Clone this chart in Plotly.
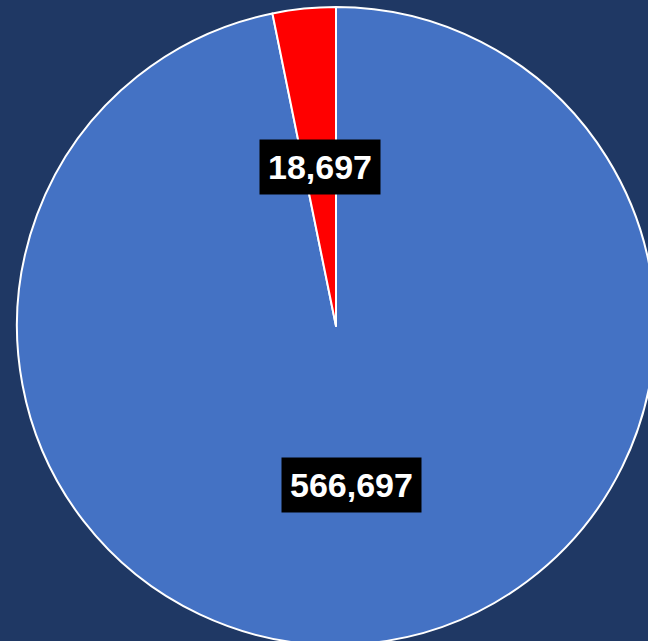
import math
import plotly.graph_objects as go

labels = ["Blue", "Red"]
values = [566697, 18697]
colors = ["#4472C4", "#FF0000"]
bg = "#1F3864"

W, H = 680, 660
cx, cy, r = 336, 326, 319  # pie centre / radius in pixels

fig = go.Figure(go.Pie(
    labels=labels, values=values, sort=False, direction="clockwise", rotation=0,
    marker=dict(colors=colors, line=dict(color="white", width=2)),
    textinfo="none", hoverinfo="none", showlegend=False,
    domain=dict(x=[(cx - r) / W, (cx + r) / W], y=[1 - (cy + r) / H, 1 - (cy - r) / H]),
))

total = sum(values)
cum = 0
for v in values:
    mid = (cum + v / 2) / total
    cum += v
    th = 2 * math.pi * mid
    px = cx + 0.5 * r * math.sin(th)
    py = cy - 0.5 * r * math.cos(th)
    fig.add_annotation(
        x=px / W, y=1 - py / H, xref="paper", yref="paper", showarrow=False,
        xanchor="center", yanchor="middle",
        text=f"<b>{v:,}</b>", bgcolor="black", borderpad=8,
        font=dict(family="Liberation Sans, Arial", size=34, color="white"),
    )

fig.update_layout(
    width=W, height=H, margin=dict(l=0, r=0, t=0, b=0),
    paper_bgcolor=bg, plot_bgcolor=bg,
)

fig.write_html("out.html", config={"displayModeBar": False},
               post_script="document.body.style.margin='0';document.body.style.overflow='hidden';document.documentElement.style.overflow='hidden';")
